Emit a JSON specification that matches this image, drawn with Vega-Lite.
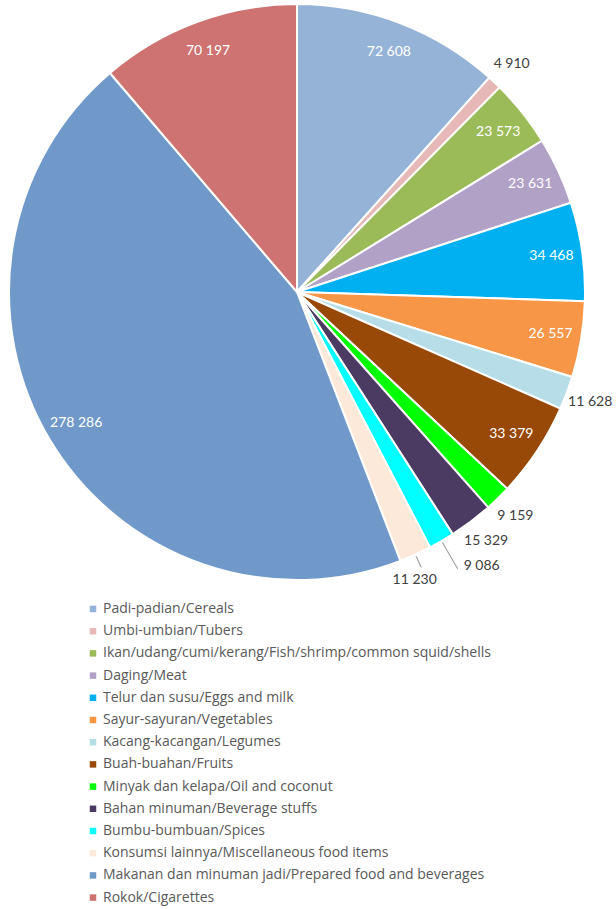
{
  "$schema": "https://vega.github.io/schema/vega-lite/v6.json",
  "autosize": {"type": "none"},
  "width": 594,
  "height": 584,
  "padding": {"left": 0, "top": 0, "right": 22, "bottom": 325},
  "background": "white",
  "config": {
    "view": {"stroke": null},
    "font": "Lato",
    "locale": {"number": {"decimal": ",", "thousands": " ", "grouping": [3], "currency": ["", ""]}}
  },
  "data": {
    "values": [
      {"k": 1, "cat": "Padi-padian/Cereals", "v": 72608, "pos": "in"},
      {"k": 2, "cat": "Umbi-umbian/Tubers", "v": 4910, "pos": "out"},
      {"k": 3, "cat": "Ikan/udang/cumi/kerang/Fish/shrimp/common squid/shells", "v": 23573, "pos": "in"},
      {"k": 4, "cat": "Daging/Meat", "v": 23631, "pos": "in"},
      {"k": 5, "cat": "Telur dan susu/Eggs and milk", "v": 34468, "pos": "in"},
      {"k": 6, "cat": "Sayur-sayuran/Vegetables", "v": 26557, "pos": "in"},
      {"k": 7, "cat": "Kacang-kacangan/Legumes", "v": 11628, "pos": "out"},
      {"k": 8, "cat": "Buah-buahan/Fruits", "v": 33379, "pos": "in"},
      {"k": 9, "cat": "Minyak dan kelapa/Oil and coconut", "v": 9159, "pos": "out"},
      {"k": 10, "cat": "Bahan minuman/Beverage stuffs", "v": 15329, "pos": "out"},
      {"k": 11, "cat": "Bumbu-bumbuan/Spices", "v": 9086, "pos": "lead1"},
      {"k": 12, "cat": "Konsumsi lainnya/Miscellaneous food items", "v": 11230, "pos": "lead2"},
      {"k": 13, "cat": "Makanan dan minuman jadi/Prepared food and beverages", "v": 278286, "pos": "in"},
      {"k": 14, "cat": "Rokok/Cigarettes", "v": 70197, "pos": "in"}
    ]
  },
  "encoding": {
    "theta": {"field": "v", "type": "quantitative", "stack": true},
    "order": {"field": "k", "type": "quantitative"}
  },
  "layer": [
    {
      "mark": {"type": "arc", "outerRadius": 288, "stroke": "white", "strokeWidth": 2},
      "encoding": {
        "color": {
          "field": "cat",
          "type": "nominal",
          "sort": null,
          "scale": {
            "domain": [
              "Padi-padian/Cereals",
              "Umbi-umbian/Tubers",
              "Ikan/udang/cumi/kerang/Fish/shrimp/common squid/shells",
              "Daging/Meat",
              "Telur dan susu/Eggs and milk",
              "Sayur-sayuran/Vegetables",
              "Kacang-kacangan/Legumes",
              "Buah-buahan/Fruits",
              "Minyak dan kelapa/Oil and coconut",
              "Bahan minuman/Beverage stuffs",
              "Bumbu-bumbuan/Spices",
              "Konsumsi lainnya/Miscellaneous food items",
              "Makanan dan minuman jadi/Prepared food and beverages",
              "Rokok/Cigarettes"
            ],
            "range": ["#95B3D7", "#E6B9B8", "#9BBB59", "#B2A1C7", "#00B0F0", "#F79646", "#B7DEE8", "#984807", "#00FF00", "#4B3A62", "#00FFFF", "#FDE9D9", "#7099CA", "#CE7371"]
          },
          "legend": {
            "title": null,
            "orient": "none",
            "legendX": 86,
            "legendY": 602,
            "direction": "vertical",
            "symbolType": "square",
            "symbolSize": 42,
            "symbolStrokeWidth": 0,
            "labelFont": "Open Sans",
            "labelFontSize": 14,
            "labelColor": "#595959",
            "labelLimit": 520,
            "rowPadding": 8.2,
            "labelOffset": 3
          }
        }
      }
    },
    {
      "mark": {"type": "arc", "innerRadius": 290, "outerRadius": 320, "padAngle": 0.6, "fill": null, "fillOpacity": 0, "stroke": "#A6A6A6", "strokeWidth": 1},
      "encoding": {
        "strokeOpacity": {"condition": {"test": "datum.pos == 'lead1'", "value": 1}, "value": 0}
      }
    },
    {
      "mark": {"type": "arc", "innerRadius": 290, "outerRadius": 302, "padAngle": 0.6, "fill": null, "fillOpacity": 0, "stroke": "#A6A6A6", "strokeWidth": 1},
      "encoding": {
        "strokeOpacity": {"condition": {"test": "datum.pos == 'lead2'", "value": 1}, "value": 0}
      }
    },
    {
      "mark": {"type": "text", "radius": 257, "color": "white", "fontSize": 14, "font": "Lato"},
      "encoding": {
        "text": {"field": "v", "type": "quantitative", "format": ",d"},
        "opacity": {"condition": {"test": "datum.pos == 'in'", "value": 1}, "value": 0}
      }
    },
    {
      "mark": {"type": "text", "radius": 313, "color": "#404040", "fontSize": 14, "font": "Lato"},
      "encoding": {
        "text": {"field": "v", "type": "quantitative", "format": ",d"},
        "opacity": {"condition": {"test": "datum.pos == 'out'", "value": 1}, "value": 0}
      }
    },
    {
      "mark": {"type": "text", "radius": 320, "align": "left", "dx": 6, "dy": -3, "color": "#404040", "fontSize": 14, "font": "Lato"},
      "encoding": {
        "text": {"field": "v", "type": "quantitative", "format": ",d"},
        "opacity": {"condition": {"test": "datum.pos == 'lead1'", "value": 1}, "value": 0}
      }
    },
    {
      "mark": {"type": "text", "radius": 313, "dx": -11, "dy": 3, "color": "#404040", "fontSize": 14, "font": "Lato"},
      "encoding": {
        "text": {"field": "v", "type": "quantitative", "format": ",d"},
        "opacity": {"condition": {"test": "datum.pos == 'lead2'", "value": 1}, "value": 0}
      }
    }
  ]
}
